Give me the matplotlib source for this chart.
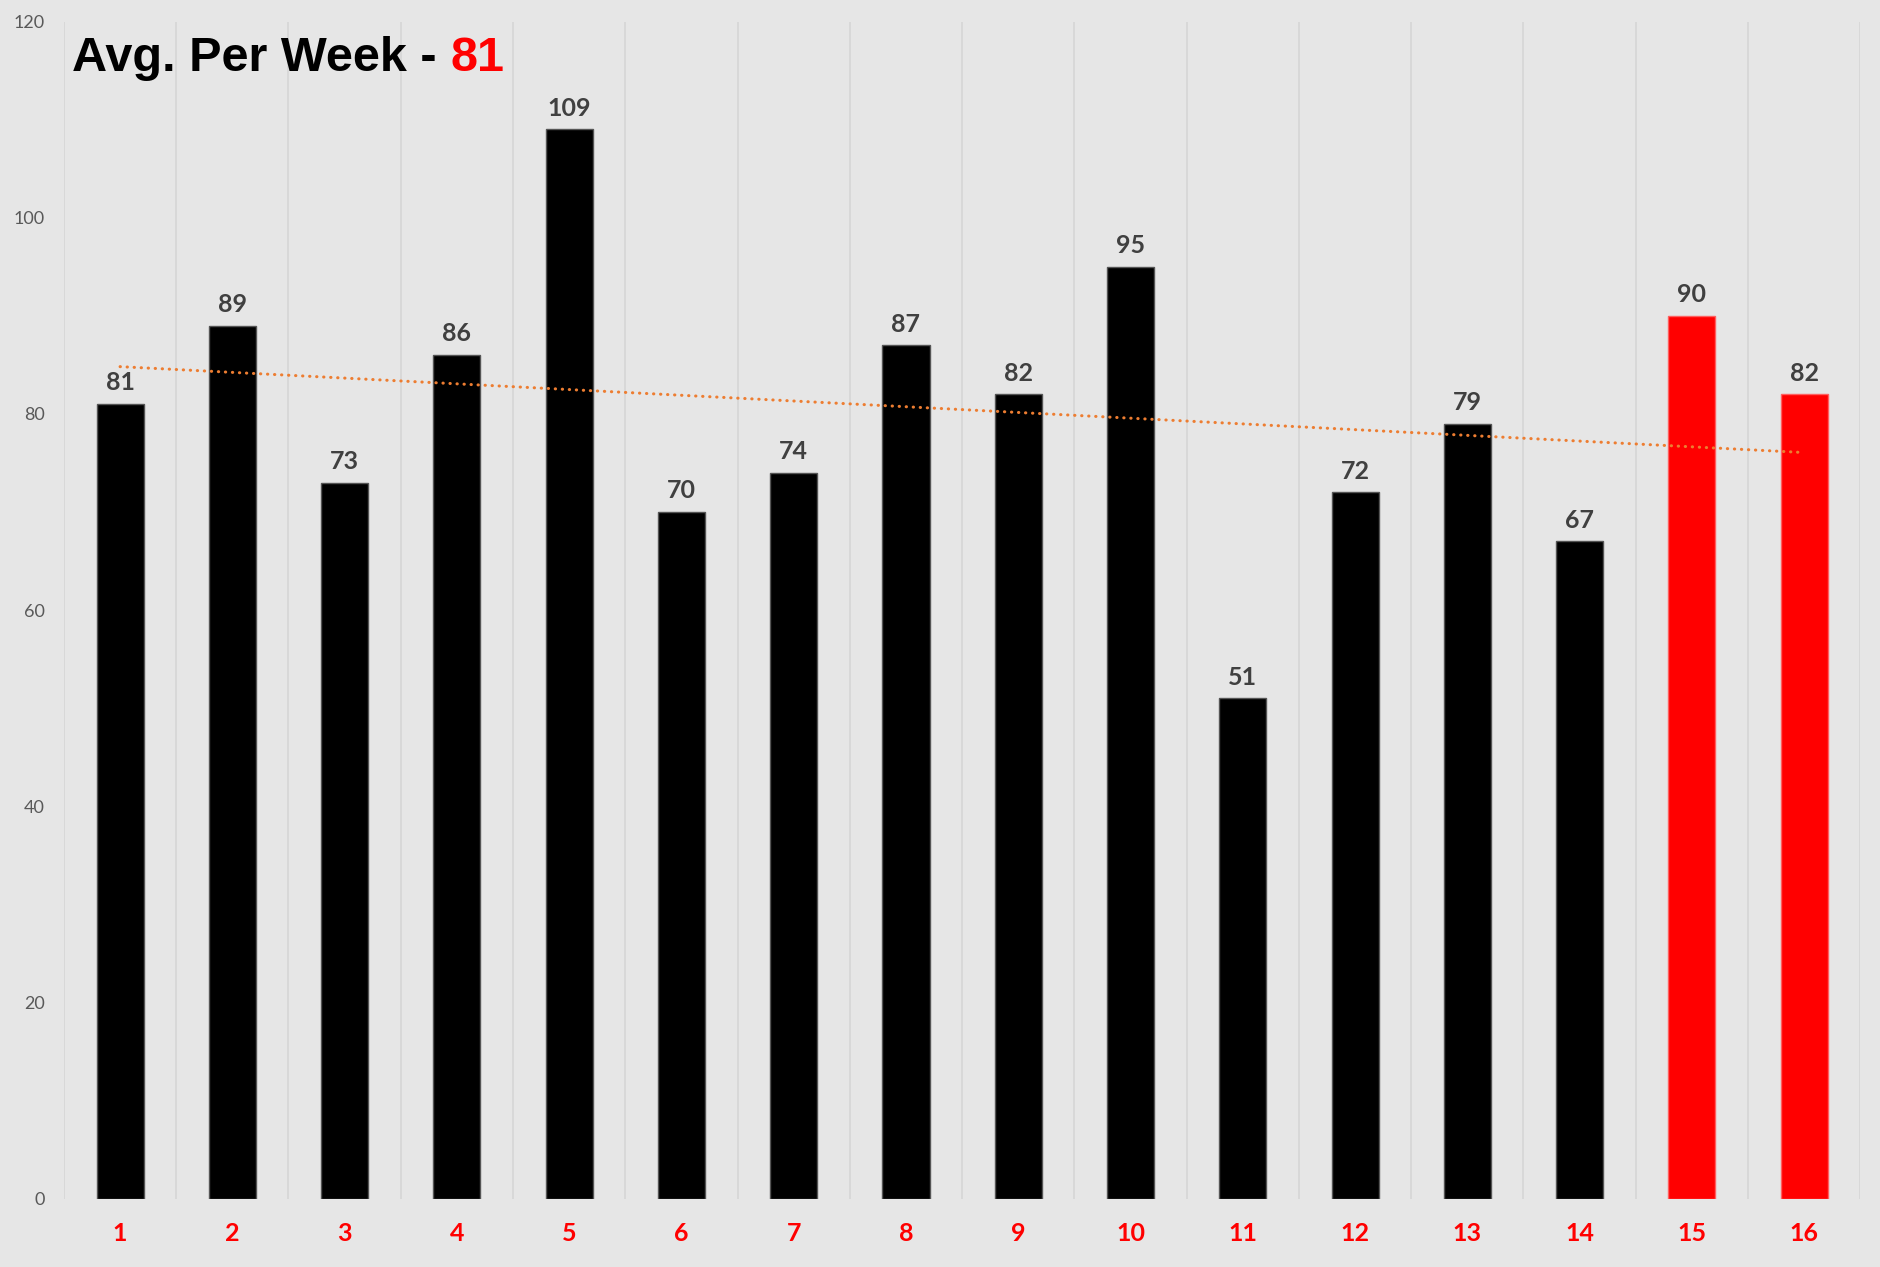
import matplotlib.pyplot as plt
import numpy as np

weeks = [str(i) for i in range(1, 17)]
counts = [81, 89, 73, 86, 109, 70, 74, 87, 82, 95, 51, 72, 79, 67, 90, 82]
bar_colors = ['#000000'] * 14 + ['#ff0000'] * 2
edge_colors = ['#555555'] * 14 + ['#ff6060'] * 2
avg_label = '81'
yticks = [0, 20, 40, 60, 80, 100, 120]

BG = '#e6e6e6'


def main():
    fig = plt.figure(figsize=(18.81, 12.67), dpi=100, facecolor=BG)
    ax = fig.add_axes([0.034, 0.054, 0.955, 0.929], facecolor=BG)

    x = np.arange(1, len(counts) + 1)
    ax.bar(x, counts, width=0.42, color=bar_colors, edgecolor=edge_colors,
           linewidth=1, zorder=2)

    # linear trend line over the weeks
    slope, icpt = np.polyfit(x, counts, 1)
    ax.plot(x, slope * x + icpt, ls=(0, (0.1, 2.2)), lw=2.2, color='#ed7d31',
            zorder=3, dash_capstyle='round')

    for xi, v in zip(x, counts):
        ax.annotate(str(v), (xi, v), xytext=(0, 7), textcoords='offset points',
                    ha='center', va='bottom', fontsize=18, fontweight='bold',
                    color='#404040', family='Lato')

    ax.set_xlim(0.5, len(counts) + 0.5)
    ax.set_ylim(0, 120)
    ax.set_yticks(yticks)
    ax.set_xticks(x)
    ax.set_xticklabels(weeks, fontsize=18, fontweight='bold', color='#ff0000',
                       family='Lato')
    for lab in ax.get_yticklabels():
        lab.set_fontsize(13)
        lab.set_color('#595959')
        lab.set_family('Lato')
    ax.tick_params(axis='both', length=0)
    ax.tick_params(axis='x', pad=17)
    ax.tick_params(axis='y', pad=14)

    for b in np.arange(0.5, len(counts) + 1, 1.0):
        ax.axvline(b, color='#d6d6d6', lw=1.2, zorder=1)
    for s in ax.spines.values():
        s.set_visible(False)

    # title in two colours
    ty = 1 - 71 / 1267
    t1 = fig.text(72 / 1881, ty, 'Avg. Per Week - ', fontsize=35,
                  fontweight='bold', color='black', family='Liberation Sans',
                  va='baseline', ha='left')
    fig.canvas.draw()
    bb = t1.get_window_extent()
    fig.text(bb.x1 / fig.bbox.width, ty, avg_label, fontsize=35,
             fontweight='bold', color='#ff0000', family='Liberation Sans',
             va='baseline', ha='left')

    fig.savefig('out.png', dpi=100, facecolor=BG)


if __name__ == '__main__':
    main()
